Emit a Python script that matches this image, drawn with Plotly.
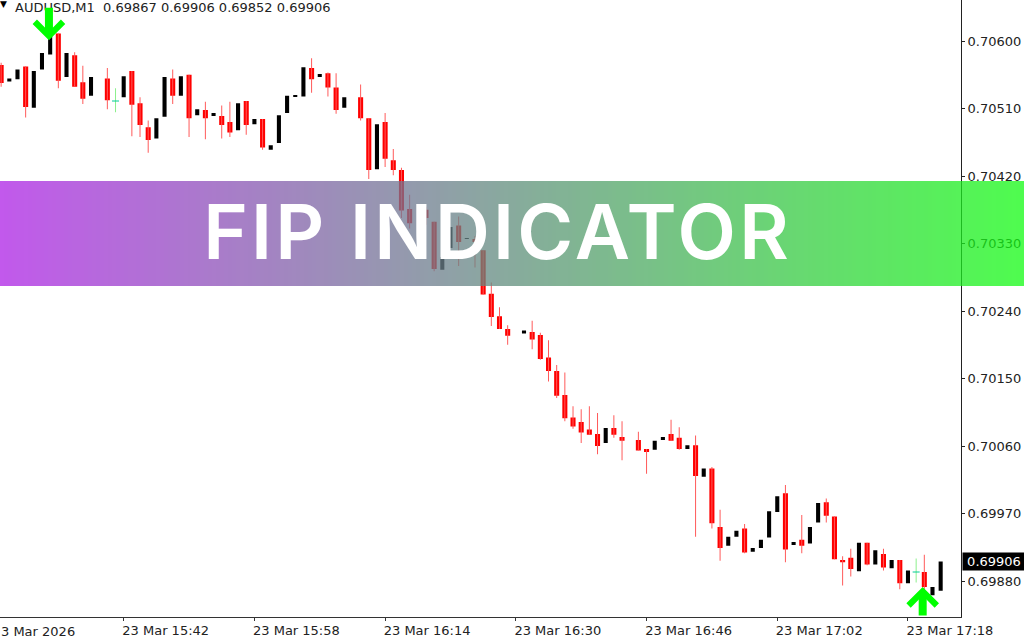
import plotly.graph_objects as go

first_bar = -15
open_ = [0.70568,0.70546,0.70549,0.70566,0.70511,0.70562,0.70582,0.70610,0.70552,0.70581,0.70545,0.70527,None,0.70550,0.70520,
0.70525,0.70560,0.70517,0.70485,0.70470,0.70499,0.70550,0.70527,0.70555,0.70501,0.70508,0.70500,0.70500,0.70492,0.70481,0.70520,
0.70489,0.70496,0.70455,0.70464,0.70504,0.70526,0.70526,0.70564,0.70552,0.70557,0.70538,0.70511,None,0.70525,0.70497,0.70429,
0.70492,0.70441,0.70428,0.70376,None,0.70375,0.70359,0.70295,0.70324,0.70354,0.70336,0.70336,0.70321,0.70263,0.70233,0.70216,
None,0.70210,0.70212,0.70208,0.70178,0.70160,0.70128,0.70098,0.70092,0.70082,0.70076,0.70064,0.70084,0.70072,None,0.70068,
0.70056,0.70055,0.70068,0.70076,0.70071,0.70056,0.70061,0.70019,0.70030,0.69952,0.69927,0.69939,0.69950,0.69919,0.69924,0.69938,
0.69972,0.69997,0.69928,0.69935,0.69930,0.69958,0.69985,0.69966,0.69908,0.69911,0.69893,0.69931,0.69902,0.69916,0.69897,0.69908,
0.69877,0.69892,0.69892,0.69861,0.69867]
high = [0.70571,0.70550,0.70562,0.70566,0.70560,0.70584,0.70607,0.70610,0.70584,0.70585,0.70567,0.70552,None,0.70564,0.70537,
0.70553,0.70560,0.70525,0.70494,0.70497,0.70552,0.70562,0.70553,0.70555,0.70509,0.70519,0.70504,0.70514,0.70519,0.70517,0.70520,
0.70496,0.70496,0.70461,0.70501,0.70527,0.70528,0.70565,0.70577,0.70556,0.70558,0.70557,0.70525,None,0.70542,0.70497,0.70489,
0.70504,0.70456,0.70431,0.70395,None,0.70379,0.70359,0.70312,0.70352,0.70366,0.70337,0.70340,0.70321,0.70278,0.70245,0.70221,
None,0.70214,0.70227,0.70211,0.70201,0.70168,0.70158,0.70113,0.70109,0.70113,0.70104,0.70084,0.70101,0.70093,None,0.70079,
0.70056,0.70067,0.70072,0.70095,0.70085,0.70061,0.70074,0.70030,0.70032,0.69975,0.69939,0.69947,0.69956,0.69924,0.69935,0.69973,
0.69993,0.70008,0.69932,0.69968,0.69952,0.69984,0.69990,0.69966,0.69913,0.69923,0.69931,0.69931,0.69921,0.69923,0.69908,0.69908,
0.69894,0.69910,0.69915,0.69872,0.69906]
low = [0.70539,0.70546,0.70549,0.70498,0.70511,0.70562,0.70582,0.70537,0.70552,0.70539,0.70516,0.70527,None,0.70509,0.70505,
0.70525,0.70473,0.70472,0.70451,0.70470,0.70499,0.70516,0.70527,0.70472,0.70501,0.70469,0.70500,0.70470,0.70472,0.70481,0.70475,
0.70489,0.70455,0.70455,0.70464,0.70504,0.70526,0.70526,0.70531,0.70552,0.70526,0.70503,0.70511,None,0.70494,0.70416,0.70429,
0.70432,0.70421,0.70364,0.70350,None,0.70355,0.70293,0.70295,0.70324,0.70300,0.70336,0.70298,0.70262,0.70220,0.70216,0.70195,
None,0.70210,0.70189,0.70175,0.70146,0.70124,0.70093,0.70083,0.70064,0.70075,0.70049,0.70064,0.70071,0.70041,None,0.70054,
0.70023,0.70055,0.70068,0.70067,0.70055,0.70056,0.69939,0.70019,0.69950,0.69907,0.69927,0.69939,0.69917,0.69919,0.69924,0.69938,
0.69972,0.69905,0.69928,0.69917,0.69930,0.69958,0.69958,0.69909,0.69874,0.69886,0.69893,0.69901,0.69902,0.69894,0.69897,0.69869,
0.69877,0.69878,0.69855,0.69861,0.69867]
close = [0.70544,0.70550,0.70562,0.70512,0.70560,0.70584,0.70607,0.70547,0.70584,0.70539,0.70523,0.70552,None,0.70521,0.70520,
0.70553,0.70515,0.70488,0.70468,0.70497,0.70552,0.70527,0.70553,0.70497,0.70509,0.70497,0.70504,0.70488,0.70478,0.70517,0.70488,
0.70496,0.70458,0.70461,0.70501,0.70527,0.70528,0.70565,0.70549,0.70556,0.70538,0.70508,0.70525,None,0.70497,0.70428,0.70489,
0.70443,0.70428,0.70374,0.70357,None,0.70364,0.70296,0.70312,0.70352,0.70332,0.70337,0.70332,0.70262,0.70232,0.70216,0.70207,
None,0.70214,0.70202,0.70176,0.70160,0.70127,0.70097,0.70086,0.70078,0.70075,0.70060,0.70084,0.70075,0.70067,None,0.70054,
0.70052,0.70067,0.70072,0.70067,0.70056,0.70061,0.70020,0.70030,0.69957,0.69924,0.69939,0.69947,0.69918,0.69924,0.69935,0.69973,
0.69993,0.69922,0.69932,0.69927,0.69952,0.69984,0.69967,0.69909,0.69905,0.69896,0.69931,0.69902,0.69921,0.69898,0.69908,0.69877,
0.69894,0.69892,0.69872,0.69872,0.69906]
bars = list(range(first_bar, first_bar + len(open_)))

tick_bars = [0, 16, 32, 48, 64, 80, 96]
tick_times = ["23 Mar 15:42", "23 Mar 15:58", "23 Mar 16:14", "23 Mar 16:30",
              "23 Mar 16:46", "23 Mar 17:02", "23 Mar 17:18"]
price_ticks = [0.70600, 0.70510, 0.70420, 0.70330, 0.70240, 0.70150, 0.70060, 0.69970, 0.69880]
last_price = 0.69906
header = "AUDUSD,M1  0.69867 0.69906 0.69852 0.69906"
sell_signal = (-9.15, 0.70601)
buy_signal = (97.8, 0.69872)

W, H, PW, PH = 1024, 640, 961, 617
FONT = "DejaVu Sans"

wick_x, wick_y, dwick_x, dwick_y = [], [], [], []
up, up_base, dn, dn_base = [], [], [], []
doji_x, doji_y = [], []
for b, o, h, l, c in zip(bars, open_, high, low, close):
    if o is None:
        continue
    if o == c:
        dwick_x += [b, b, None]
        dwick_y += [l, h, None]
        doji_x.append(b)
        doji_y.append(o)
        up.append(None); up_base.append(None); dn.append(None); dn_base.append(None)
        continue
    if c < o:
        wick_x += [b, b, None]
        wick_y += [l, h, None]
        dn.append(o - c); dn_base.append(c); up.append(None); up_base.append(None)
    else:
        up.append(c - o); up_base.append(o); dn.append(None); dn_base.append(None)
body_x = [b for b, o in zip(bars, open_) if o is not None]

fig = go.Figure()
fig.add_trace(go.Scatter(x=wick_x, y=wick_y, mode="lines", line=dict(color="#ff5a5a", width=1), hoverinfo="skip"))
fig.add_trace(go.Scatter(x=dwick_x, y=dwick_y, mode="lines", line=dict(color="#8cf08c", width=1), hoverinfo="skip"))
fig.add_trace(go.Scatter(x=doji_x, y=doji_y, mode="markers",
                         marker=dict(symbol="line-ew-open", size=5, line=dict(color="#8cf08c", width=1)), hoverinfo="skip"))
fig.add_trace(go.Bar(x=body_x, y=dn, base=dn_base, width=0.62, marker=dict(color="#ff0000", line=dict(width=0))))
fig.add_trace(go.Bar(x=body_x, y=up, base=up_base, width=0.5, marker=dict(color="#000000", line=dict(width=0))))

# gradient banner, drawn in narrow slices
L_RGB, R_RGB = (173, 33, 229), (19, 251, 19)
STEP = 4
top, bottom = 181, 286
shapes = []
for px in range(0, W, STEP):
    t = (px + STEP / 2) / W
    rgb = [round(a + (b - a) * t) for a, b in zip(L_RGB, R_RGB)]
    shapes.append(dict(type="rect", layer="above", xref="paper", yref="paper",
                       x0=px / PW, x1=(px + STEP) / PW, y0=1 - bottom / PH, y1=1 - top / PH,
                       fillcolor=f"rgba({rgb[0]},{rgb[1]},{rgb[2]},0.75)", line=dict(width=0)))

annotations = [
    dict(xref="paper", yref="paper", x=497.5 / PW, y=1 - 231 / PH, yanchor="middle", text="FIP INDICATOR", showarrow=False,
         font=dict(family="Inter", size=76, color="white", weight=600)),
    dict(xref="paper", yref="paper", x=14 / PW, y=1 - 7 / PH, xanchor="left", yanchor="middle",
         text=header.replace("  ", "&nbsp;&nbsp;"), showarrow=False, borderpad=0,
         font=dict(family=FONT, size=13, color="#222222")),
    dict(xref="paper", yref="paper", x=-1 / PW, y=1 - 4 / PH, xanchor="left", yanchor="middle", text="▼", showarrow=False,
         borderpad=0, font=dict(family=FONT, size=9, color="#000000")),
    dict(xref="paper", yref="paper", x=0, y=-14 / PH, xanchor="left", yanchor="middle", text="3 Mar 2026", showarrow=False,
         borderpad=0, font=dict(family=FONT, size=13, color="#222222")),
    dict(xref="paper", yref="y", x=962 / PW, y=last_price, xanchor="left", yanchor="middle", text=f"{last_price:.5f}",
         showarrow=False, width=60, height=15, align="center", bgcolor="#000000", borderpad=1,
         font=dict(family=FONT, size=13, color="white")),
    dict(x=sell_signal[0], y=sell_signal[1], ax=0, ay=-34, text="", showarrow=True, arrowhead=4, arrowsize=0.68,
         arrowwidth=8, arrowcolor="#00ff00", standoff=0),
    dict(x=buy_signal[0], y=buy_signal[1], ax=0, ay=30, text="", showarrow=True, arrowhead=4, arrowsize=0.68,
         arrowwidth=8, arrowcolor="#00ff00", standoff=0),
]

y_top = 0.706 + 41 / 75000
y_bot = y_top - PH / 75000
fig.update_layout(
    width=W, height=H, margin=dict(l=0, r=W - PW, t=0, b=H - PH), showlegend=False, barmode="overlay",
    paper_bgcolor="white", plot_bgcolor="white", font=dict(family=FONT, size=13, color="#222222"),
    shapes=shapes, annotations=annotations,
    xaxis=dict(range=[-15.14, 102.49], tickmode="array", tickvals=tick_bars, ticktext=tick_times, tickangle=0,
               ticks="outside", ticklen=3, tickcolor="#333333", showgrid=False, zeroline=False,
               showline=True, linecolor="#333333", linewidth=1, ticklabelshift=42, ticklabelstandoff=-2),
    yaxis=dict(range=[y_bot, y_top], side="right", tickmode="array", tickvals=price_ticks, tickformat=".5f",
               ticks="outside", ticklen=3, tickcolor="#222222", showgrid=False, zeroline=False,
               showline=True, linecolor="#222222", linewidth=1),
)
post = """
document.body.style.margin='0';document.body.style.overflow='hidden';
document.querySelectorAll('.annotation-text').forEach(function(t){
  if (t.textContent === 'FIP INDICATOR') { t.style.letterSpacing = '3.2px'; }
});
"""
fig.write_html("out.html", post_script=post, config={"displayModeBar": False})
